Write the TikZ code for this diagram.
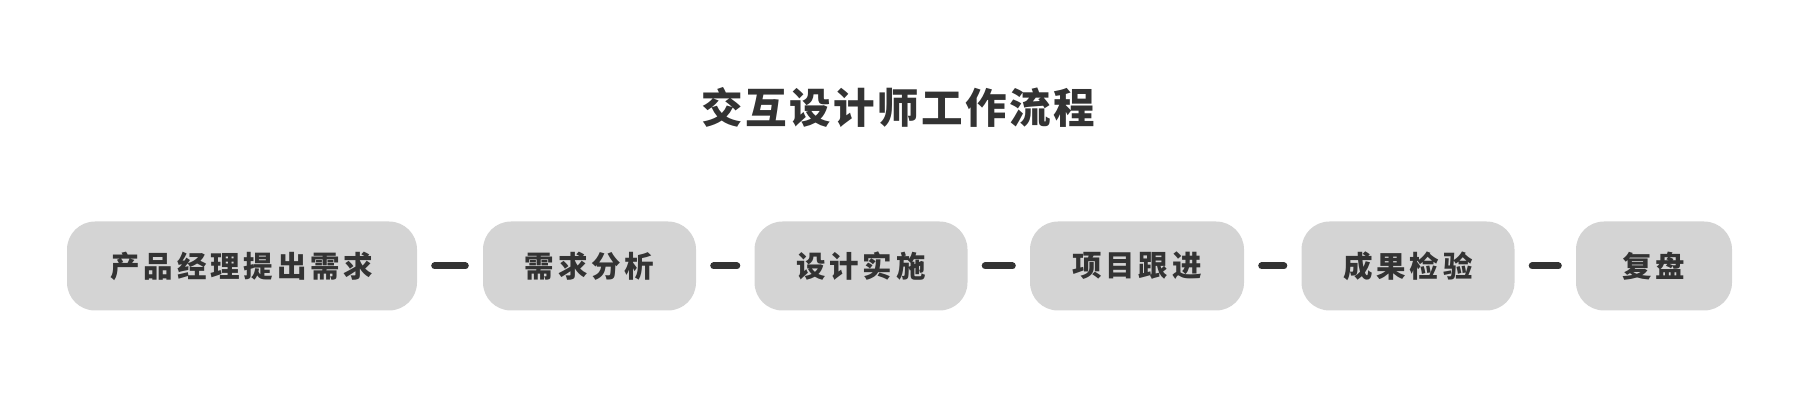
\documentclass[tikz,border=0pt]{standalone}
\usepackage{fontspec}
\newfontfamily\cjkbox[LetterSpace=13]{Noto Sans CJK SC}
\newfontfamily\cjktitle[LetterSpace=6]{Noto Sans CJK SC}
\definecolor{ink}{HTML}{333333}
\definecolor{pill}{HTML}{D4D4D4}
\tikzset{
  stage/.style={fill=pill, rounded corners=28pt, minimum height=89pt, inner sep=0pt,
    text=ink, font=\cjkbox\bfseries\fontsize{29.5pt}{31pt}\selectfont},
  link/.style={ink, line width=7pt, line cap=round, shorten <=17.5pt, shorten >=17.5pt}
}
\begin{document}
\begin{tikzpicture}[x=1pt,y=1pt]
    \useasboundingbox (0,0) rectangle (1804,411);
    \def\h{145}
    \node[text=ink, font=\cjktitle\bfseries\fontsize{41.5pt}{43pt}\selectfont] (title) at (898,303) {交互设计师工作流程};
    \node[stage, minimum width=350pt] (s1) at (242,\h) {产品经理提出需求};
    \node[stage, minimum width=213pt] (s2) at (589.5,\h) {需求分析};
    \node[stage, minimum width=213pt] (s3) at (861,\h) {设计实施};
    \node[stage, minimum width=214pt] (s4) at (1137,\h) {项目跟进};
    \node[stage, minimum width=213pt] (s5) at (1408,\h) {成果检验};
    \node[stage, minimum width=156pt] (s6) at (1654,\h) {复盘};
    \foreach \i/\j in {s1/s2,s2/s3,s3/s4,s4/s5,s5/s6}
      \draw[link] (\i.east) -- (\j.west);
\end{tikzpicture}
\end{document}
